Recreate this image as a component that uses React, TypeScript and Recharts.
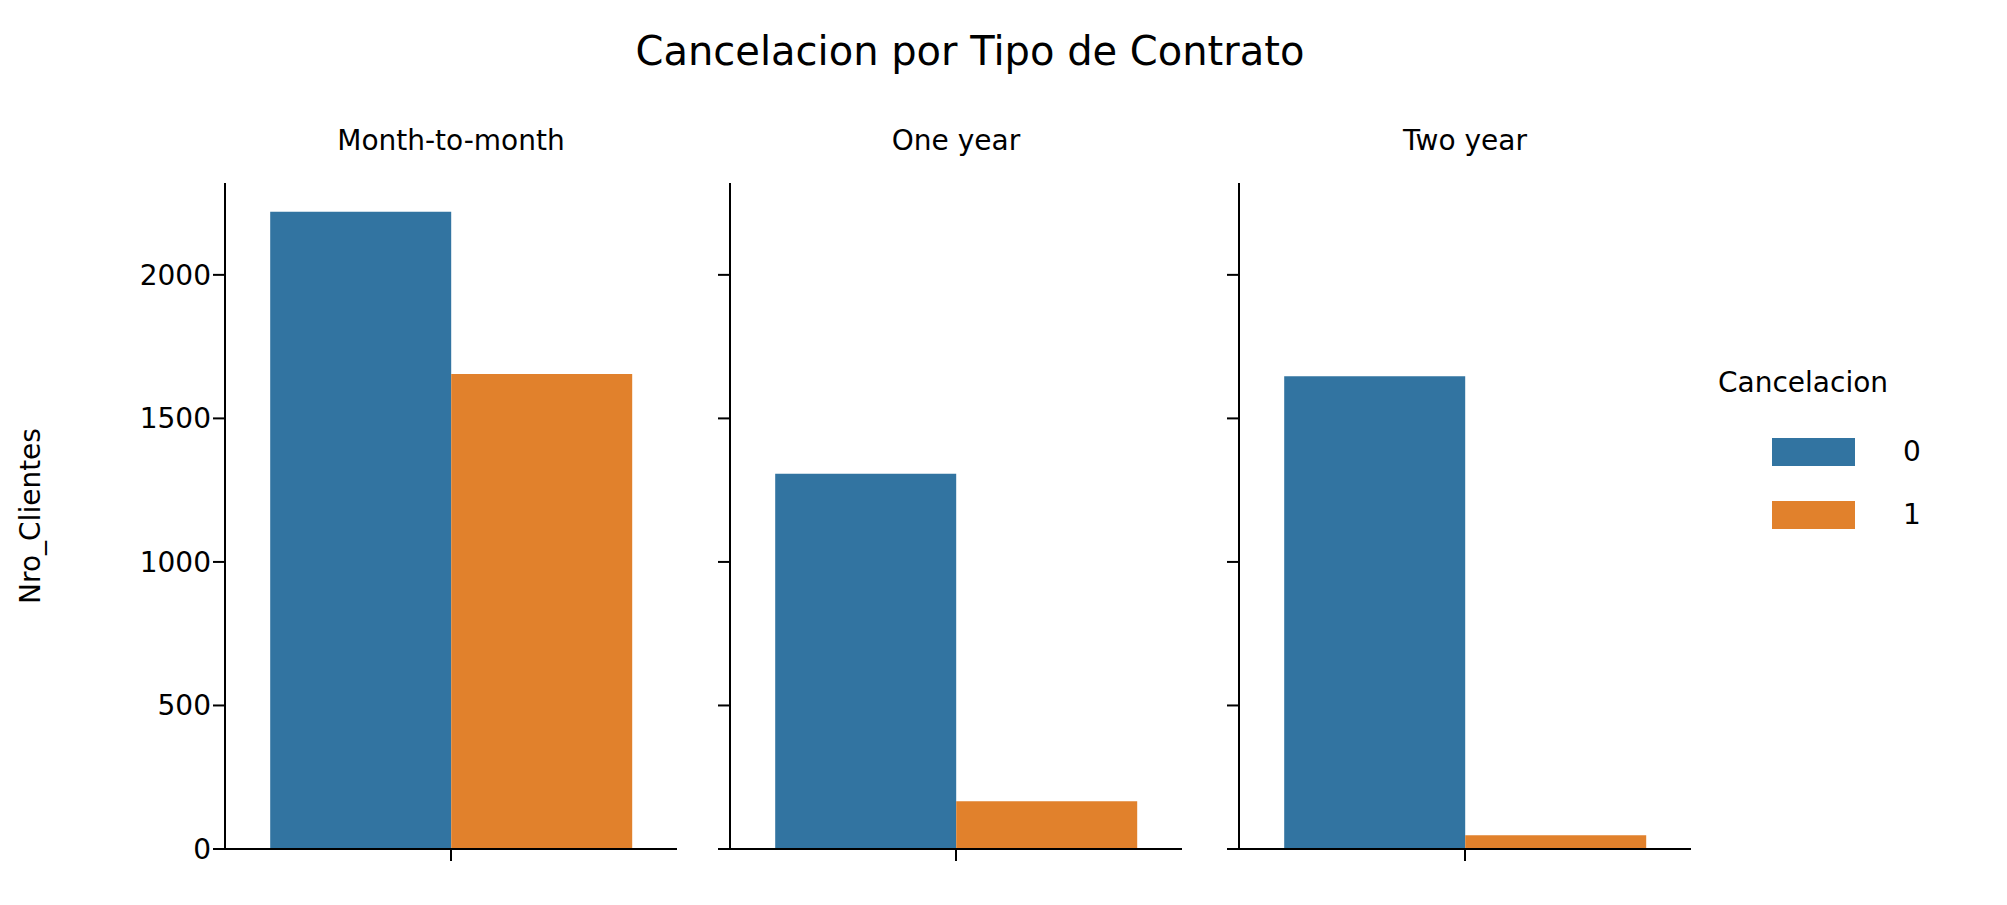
import { BarChart, Bar, XAxis, YAxis } from 'recharts';

const contracts = ['Month-to-month', 'One year', 'Two year'];
const noCancel = [2220, 1307, 1647];
const cancel = [1655, 166, 48];
const yTicks = [0, 500, 1000, 1500, 2000];

const BLUE = '#3274a1';
const ORANGE = '#e1812c';
const FONT = 'DejaVu Sans';

const panels = [
  { left: 0, yw: 225 },
  { left: 700, yw: 30 },
  { left: 1209, yw: 30 },
];
const PLOT_W = 452;

export default function App() {
  return (
    <div style={{ position: 'relative', width: 2007, height: 905, margin: -8, background: '#fff', fontFamily: FONT }}>
      <div style={{ position: 'absolute', top: 28, left: 0, width: 1940, textAlign: 'center', fontSize: 40 }}>
        Cancelacion por Tipo de Contrato
      </div>
      {contracts.map((c, i) => {
        const p = panels[i];
        const data = [{ contract: c, '0': noCancel[i], '1': cancel[i] }];
        return (
          <div key={c} style={{ position: 'absolute', left: p.left, top: 0 }}>
            <div style={{ position: 'absolute', left: p.yw, width: PLOT_W, top: 124, textAlign: 'center', fontSize: 28 }}>{c}</div>
            <BarChart width={p.yw + PLOT_W + 4} height={905} data={data}
              margin={{ top: 183, right: 4, bottom: 0, left: 0 }} barCategoryGap="10%" barGap={0}>
              <XAxis dataKey="contract" height={56} tickFormatter={() => ''}
                axisLine={{ stroke: '#000', strokeWidth: 2 }} tickLine={{ stroke: '#000', strokeWidth: 2 }} tickSize={12} />
              <YAxis width={p.yw} domain={[0, 2320]} ticks={yTicks} interval={0}
                tickFormatter={(v) => (i === 0 ? String(v) : '')}
                tick={{ fill: '#000', fontSize: 28, fontFamily: FONT }} tickSize={12}
                axisLine={{ stroke: '#000', strokeWidth: 2 }} tickLine={{ stroke: '#000', strokeWidth: 2 }}
                label={i === 0 ? { value: 'Nro_Clientes', angle: -90, position: 'insideLeft', offset: 30, style: { fill: '#000', fontSize: 28, fontFamily: FONT, textAnchor: 'middle' } } : undefined} />
              <Bar dataKey="0" fill={BLUE} isAnimationActive={false} />
              <Bar dataKey="1" fill={ORANGE} isAnimationActive={false} />
            </BarChart>
          </div>
        );
      })}
      <div style={{ position: 'absolute', left: 1718, top: 366, fontSize: 28 }}>Cancelacion</div>
      {['0', '1'].map((l, k) => (
        <div key={l} style={{ position: 'absolute', left: 1772, top: 435 + k * 63, display: 'flex', alignItems: 'center' }}>
          <div style={{ width: 83, height: 28, background: k === 0 ? BLUE : ORANGE }} />
          <span style={{ marginLeft: 48, fontSize: 28 }}>{l}</span>
        </div>
      ))}
    </div>
  );
}
